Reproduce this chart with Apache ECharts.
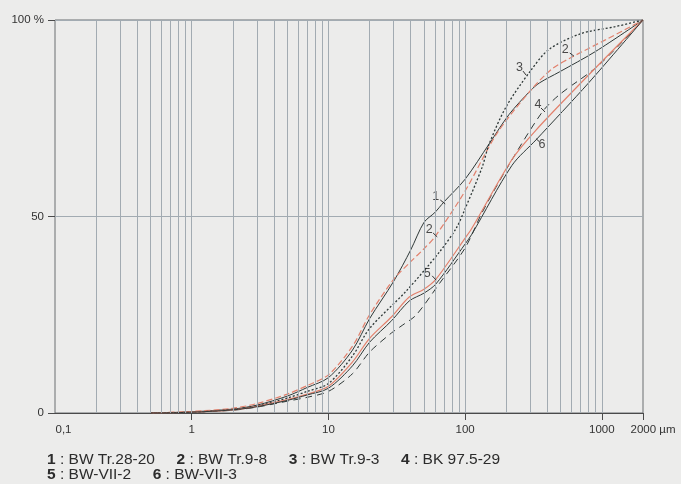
<!DOCTYPE html>
<html>
<head>
<meta charset="utf-8">
<script src="https://cdn.jsdelivr.net/npm/echarts@6/dist/echarts.min.js"></script>
<style>
  html, body { margin: 0; padding: 0; background: #ececeb; }
  #main { width: 681px; height: 484px; }
</style>
</head>
<body>
<div id="main"></div>
<script>
// Korngrößen (µm) und Summenprozent je Probe
const c1 = [[0.5,0],[1,0.3],[2,1],[3,2],[5,4.3],[7,6.5],[10,9],[15,16],[20,24],[30,33.5],[40,41.5],[50,48.5],[60,51],[70,53.7],[100,59.5],[150,68.5],[210,76],[300,82],[350,84],[490,86.8],[900,92],[2000,100]];
const c2 = [[0.5,0],[1,0.4],[2,1.2],[3,2.4],[5,4.8],[7,7],[10,9.7],[15,17],[20,25],[30,34],[40,38.5],[50,41.8],[60,44.8],[100,56.5],[170,71],[300,82],[430,87.5],[600,90.5],[1070,95],[2000,100]];
const c3 = [[0.5,0],[1,0.2],[2,0.9],[3,1.8],[5,3.8],[7,5.5],[10,7.5],[15,14.5],[20,21.5],[37,31],[65,41],[86,47],[100,52],[133,62.5],[150,68.5],[200,78],[300,87],[410,92.5],[700,96.5],[1250,98.3],[2000,100]];
const c4 = [[0.5,0],[1,0.2],[2,0.7],[3,1.5],[5,3],[7,4],[10,5.5],[15,10],[20,15.5],[29,20.4],[35,22.4],[44,25],[65,33],[100,42],[133,51],[200,62],[365,76.5],[490,81],[950,88.5],[2000,100]];
const c5 = [[0.5,0],[1,0.2],[2,0.8],[3,1.7],[5,3.4],[7,4.8],[10,6.8],[15,13],[20,19],[29,24.5],[39,29.5],[50,31.5],[61,34],[100,44.5],[112,47],[220,64.5],[330,72],[800,86],[2000,100]];
const c6 = [[0.5,0],[1,0.2],[2,0.8],[3,1.6],[5,3.2],[7,4.6],[10,6.3],[15,12],[20,18],[29,23.5],[39,28.5],[50,30.5],[61,32.8],[100,43],[112,45.5],[220,63],[330,69.5],[800,84],[2000,100]];

const names = ['BW Tr.28-20', 'BW Tr.9-8', 'BW Tr.9-3', 'BK 97.5-29', 'BW-VII-2', 'BW-VII-3'];

// Kurvennummern im Diagramm [Nr, µm, %]
const curveLabels = [['1',61,55],['2',54.6,46.8],['2',540,92.4],['3',250,87.8],['4',341,78.4],['5',52.8,35.6],['6',365,68.2]];
// kurze Hinweisstriche [von µm, von %, bis µm, bis %]
const leaders = [[65.8,54.2,71.5,53.2],[58.3,45.8,62.5,44.8],[583,91.6,625,90.8],[265,87,279,86],[359,77.6,384,76.6],[57.4,34.9,61.4,33.8],[350,69,330,69.8]];

// senkrechte Gitterlinien (log)
const gridX = [0.2,0.3,0.4,0.5,0.6,0.7,0.8,0.9,1,2,3,4,5,6,7,8,9,10,20,30,40,50,60,70,80,90,100,200,300,400,500,600,700,800,900,1000];
const xLabelVals = [0.1, 1, 10, 100, 1000, 2000];
const yLabelVals = [0, 50, 100];

const font = 'Liberation Sans, Arial, sans-serif';
const dark = '#2e3837';
const red = '#e2806c';

const myChart = echarts.init(document.getElementById('main'));

const styles = [
    { color: dark, type: 'solid', width: 1 },
    { color: red, type: [6, 3], width: 1.2 },
    { color: dark, type: [2, 2], width: 1.3 },
    { color: dark, type: [7, 5], width: 1 },
    { color: red, type: 'solid', width: 1.2 },
    { color: dark, type: 'solid', width: 1 }
];
const curves = [c1, c2, c3, c4, c5, c6];

let series = [{
    type: 'line',
    data: [[0.1, 0]],
    showSymbol: false,
    lineStyle: { opacity: 0 },
    silent: true,
    z: 1,
    markLine: {
        silent: true,
        symbol: 'none',
        label: { show: false },
        lineStyle: { color: '#a2abb2', width: 1, type: 'solid' },
        data: gridX.map(v => ({ xAxis: v }))
    }
}];

curves.forEach((c, i) => {
    series.push({
        name: names[i],
        type: 'line',
        data: c,
        showSymbol: false,
        smooth: 0.3,
        z: 3,
        lineStyle: styles[i],
        itemStyle: { color: styles[i].color }
    });
});

// Nummern an den Kurven
series.push({
    type: 'scatter',
    data: curveLabels.map(l => ({ value: [l[1], l[2]], name: l[0] })),
    symbolSize: 0,
    silent: true,
    z: 4,
    label: {
        show: true,
        position: 'inside',
        formatter: p => p.name,
        color: '#1e1e1e',
        fontSize: 12.5,
        fontFamily: font
    },
    markLine: {
        silent: true,
        symbol: 'none',
        label: { show: false },
        lineStyle: { color: '#333', width: 1, type: 'solid' },
        data: leaders.map(d => [{ coord: [d[0], d[1]] }, { coord: [d[2], d[3]] }])
    }
});

let legendText = names.map((n, i) => '{b|' + (i + 1) + '} : ' + n);
let title = legendText.slice(0, 4).join('     ') + '\n' + legendText.slice(4).join('     ');

let option = {
    backgroundColor: '#ececeb',
    animation: false,
    title: {
        text: title,
        left: 47,
        top: 452,
        padding: 0,
        textStyle: {
            fontFamily: font,
            fontSize: 15.5,
            fontWeight: 'normal',
            color: '#2c2c2c',
            lineHeight: 15,
            rich: {
                b: { fontWeight: 'bold', fontSize: 15.5, fontFamily: font, color: '#2c2c2c', lineHeight: 15 }
            }
        }
    },
    grid: {
        left: 55,
        right: 38,
        top: 20,
        bottom: 71,
        show: true,
        borderColor: '#6a6e70',
        borderWidth: 1,
        backgroundColor: 'transparent'
    },
    xAxis: {
        type: 'log',
        logBase: 10,
        min: 0.1,
        max: 2000,
        axisLine: { show: true, lineStyle: { color: '#4a4a4a', width: 1 } },
        axisTick: { show: true, length: 7, customValues: xLabelVals.slice(1), lineStyle: { color: '#4a4a4a' } },
        splitLine: { show: false },
        axisLabel: {
            customValues: xLabelVals,
            margin: 11,
            color: '#333',
            fontSize: 11.5,
            fontFamily: font,
            formatter: function (v) {
                if (v < 0.5) return '{l|0,1}';
                if (v > 1500) return '{r|2000 µm}';
                return String(Math.round(v));
            },
            rich: {
                l: { padding: [0, 0, 0, 17], fontSize: 11.5, fontFamily: font, color: '#333' },
                r: { padding: [0, 0, 0, 20], fontSize: 11.5, fontFamily: font, color: '#333' }
            }
        }
    },
    yAxis: {
        type: 'value',
        min: 0,
        max: 100,
        interval: 25,
        axisLine: { show: false },
        axisTick: { show: true, length: 7, customValues: yLabelVals, lineStyle: { color: '#4a4a4a' } },
        splitLine: { show: true, lineStyle: { color: '#a2abb2', width: 1 } },
        axisLabel: {
            customValues: yLabelVals,
            margin: 11,
            color: '#333',
            fontSize: 11.5,
            fontFamily: font,
            formatter: function (v) {
                return v === 100 ? '100 %' : String(v);
            }
        }
    },
    series: series
};
option && myChart.setOption(option);
</script>
</body>
</html>
